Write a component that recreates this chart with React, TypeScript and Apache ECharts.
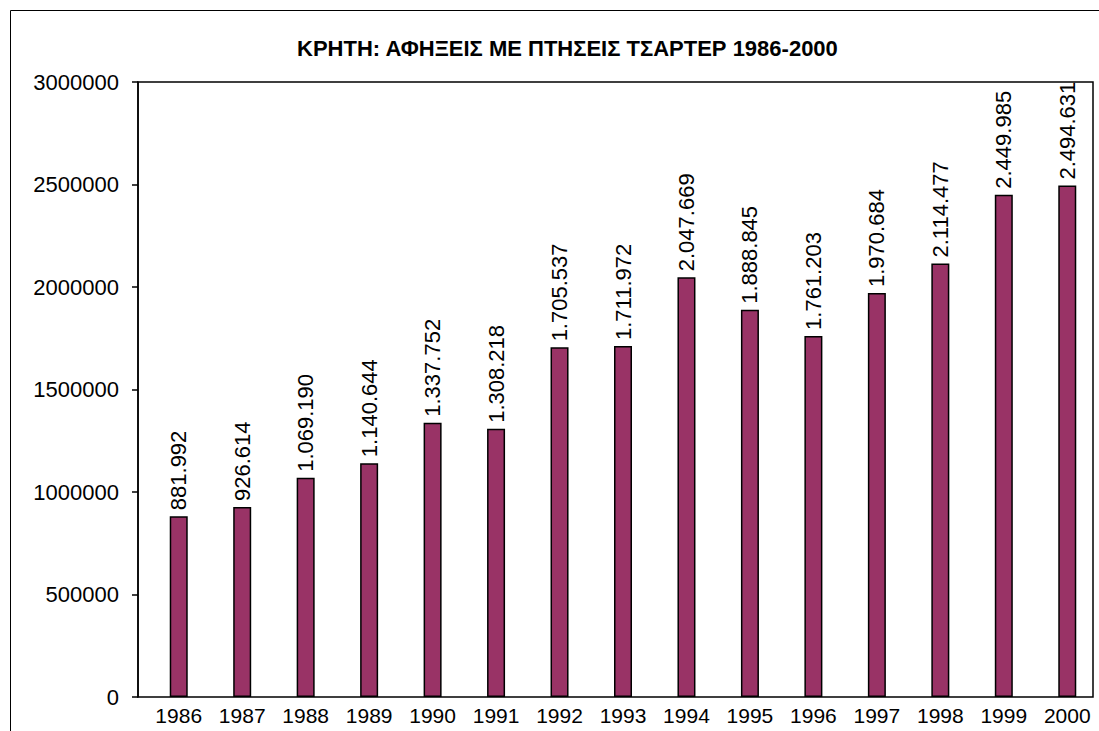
import React, { useEffect, useRef } from "react";
import * as echarts from "echarts";

const years = ["1986", "1987", "1988", "1989", "1990", "1991", "1992", "1993", "1994", "1995", "1996", "1997", "1998", "1999", "2000"];
const departures = [881992, 926614, 1069190, 1140644, 1337752, 1308218, 1705537, 1711972, 2047669, 1888845, 1761203, 1970684, 2114477, 2449985, 2494631];
const yMin = 0;
const yMax = 3000000;
const yInterval = 500000;
const titleText = "ΚΡΗΤΗ: ΑΦΗΞΕΙΣ ΜΕ ΠΤΗΣΕΙΣ ΤΣΑΡΤΕΡ 1986-2000";

const FONT = "'Liberation Sans', Arial, sans-serif";

function fmt(v: number): string {
  return String(v).replace(/\B(?=(\d{3})+(?!\d))/g, ".");
}

export default function App() {
  const ref = useRef<HTMLDivElement>(null);
  useEffect(() => {
    if (!ref.current) return;
    const chart = echarts.init(ref.current, null, { renderer: "svg" });
    chart.setOption({
      animation: false,
      backgroundColor: "#ffffff",
      title: {
        text: titleText,
        left: 292,
        top: 32,
        textStyle: { fontFamily: FONT, fontSize: 22, fontWeight: "bold", color: "#000" },
      },
      graphic: [
        {
          type: "rect",
          shape: { x: 10.5, y: 10.5, width: 1100, height: 730 },
          style: { fill: "none", stroke: "#000", lineWidth: 1 },
          silent: true,
        },
        {
          type: "rect",
          shape: { x: 138, y: 82, width: 955, height: 615 },
          style: { fill: "none", stroke: "#000", lineWidth: 1.5 },
          silent: true,
          z: 10,
        },
      ],
      grid: { left: 147, top: 82, width: 955, height: 615, containLabel: false },
      xAxis: {
        type: "category",
        data: years,
        axisLine: { show: false },
        axisTick: { show: false },
        axisLabel: { fontFamily: FONT, fontSize: 21, color: "#000", margin: 8, interval: 0 },
      },
      yAxis: {
        type: "value",
        min: yMin,
        max: yMax,
        interval: yInterval,
        offset: 9,
        splitLine: { show: false },
        axisLine: { show: true, lineStyle: { color: "#000", width: 1.5 } },
        axisTick: { show: true, length: 6, lineStyle: { color: "#000", width: 1.5 } },
        axisLabel: {
          fontFamily: FONT,
          fontSize: 22,
          color: "#000",
          margin: 19,
          formatter: (v: number) => String(v),
        },
      },
      series: [
        {
          type: "bar",
          data: departures,
          barWidth: 18,
          itemStyle: { color: "#993366", borderColor: "#000", borderWidth: 1.5 },
          label: {
            show: true,
            position: "top",
            rotate: 90,
            align: "left",
            verticalAlign: "middle",
            distance: 6,
            fontFamily: FONT,
            fontSize: 22,
            color: "#000",
            formatter: (p: any) => fmt(p.value),
          },
        },
      ],
    });
    return () => chart.dispose();
  }, []);
  return <div ref={ref} style={{ position: "fixed", left: 0, top: 0, width: 1099, height: 731 }} />;
}
